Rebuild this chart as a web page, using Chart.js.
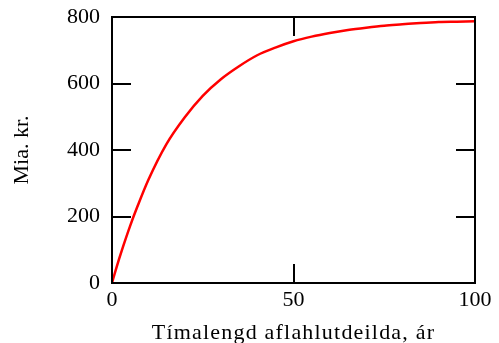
<!DOCTYPE html>
<html>
<head>
<meta charset="utf-8">
<script src="https://cdn.jsdelivr.net/npm/chart.js@4.4.0/dist/chart.umd.min.js"></script>
<style>
  html, body { margin: 0; padding: 0; background: #fff; }
  #wrap { width: 499px; height: 343px; }
</style>
</head>
<body>
<div id="wrap"><canvas id="c" width="499" height="343"></canvas></div>
<script>
// Years (x) and value in billion ISK (y)
const years  = [0, 1, 2, 3, 5, 7, 10, 15, 20, 25, 30, 35, 40, 45, 50, 55, 60, 65, 70, 75, 80, 85, 90, 95, 100];
const values = [0, 38, 74, 108, 172, 230, 310, 418, 498, 563, 613, 652, 685, 708, 727, 741, 752, 761, 768, 774, 778, 782, 785, 786, 787];
const xTicks = [0, 50, 100];
const yTicks = [0, 200, 400, 600, 800];
const xTitle = 'Tímalengd aflahlutdeilda, ár';
const yTitle = 'Mia. kr.';

const points = years.map((x, i) => ({ x: x, y: values[i] }));
const serif = '"Liberation Serif", "Times New Roman", serif';

const frame = {
  id: 'frame',
  afterLayout(chart) {
    const sx = chart.scales.x;
    if (!sx._wrapped) {
      const orig = sx.drawTitle;
      sx.drawTitle = function (...args) {
        const ctx = this.ctx;
        ctx.save();
        ctx.letterSpacing = '1.2px';
        orig.apply(this, args);
        ctx.restore();
      };
      sx._wrapped = true;
    }
  },
  afterDraw(chart) {
    const { ctx, chartArea: a, scales } = chart;
    const L = 19;
    ctx.save();
    ctx.strokeStyle = '#000';
    ctx.lineWidth = 2;
    ctx.strokeRect(a.left, a.top, a.right - a.left, a.bottom - a.top);
    ctx.beginPath();
    xTicks.forEach(v => {
      const px = Math.round(scales.x.getPixelForValue(v));
      ctx.moveTo(px, a.bottom); ctx.lineTo(px, a.bottom - L);
      ctx.moveTo(px, a.top); ctx.lineTo(px, a.top + L);
    });
    yTicks.forEach(v => {
      const py = Math.round(scales.y.getPixelForValue(v));
      ctx.moveTo(a.left, py); ctx.lineTo(a.left + L, py);
      ctx.moveTo(a.right, py); ctx.lineTo(a.right - L, py);
    });
    ctx.stroke();
    ctx.restore();
  }
};

new Chart(document.getElementById('c'), {
  type: 'line',
  data: {
    datasets: [{
      data: points,
      borderColor: '#ff0000',
      borderWidth: 2.5,
      pointRadius: 0,
      fill: false,
      cubicInterpolationMode: 'monotone'
    }]
  },
  options: {
    responsive: false,
    animation: false,
    events: [],
    layout: { padding: { left: 0, right: 24, top: 17, bottom: 0 } },
    plugins: { legend: { display: false }, tooltip: { enabled: false } },
    scales: {
      x: {
        type: 'linear',
        min: 0, max: 100,
        afterBuildTicks(s) { s.ticks = xTicks.map(v => ({ value: v })); },
        afterFit(s) { s.height = 60; s.paddingLeft = 0; s.paddingRight = 0; },
        grid: { display: false, drawTicks: false },
        border: { display: false },
        ticks: { color: '#000', font: { family: serif, size: 22 }, padding: 4 },
        title: { display: true, text: xTitle, color: '#000', font: { family: serif, size: 22 }, padding: { top: 0, bottom: -3 } }
      },
      y: {
        min: 0, max: 800,
        afterBuildTicks(s) { s.ticks = yTicks.map(v => ({ value: v })); },
        afterFit(s) { s.width = 112; s.paddingTop = 0; s.paddingBottom = 0; },
        grid: { display: false, drawTicks: false },
        border: { display: false },
        ticks: { color: '#000', font: { family: serif, size: 22 }, padding: 12 },
        title: { display: true, text: yTitle, color: '#000', font: { family: serif, size: 22 }, padding: { top: 9, bottom: 0 } }
      }
    }
  },
  plugins: [frame]
});
</script>
</body>
</html>
